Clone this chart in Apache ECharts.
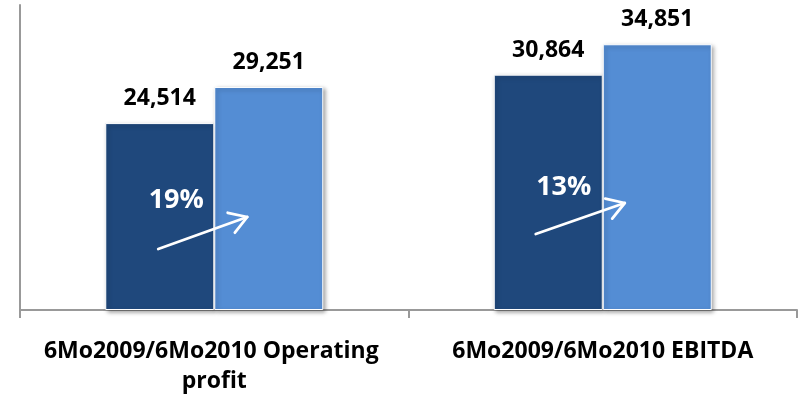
<!DOCTYPE html>
<html>
<head>
<meta charset="utf-8">
<script src="https://cdn.jsdelivr.net/npm/echarts@6/dist/echarts.min.js"></script>
<style>
  html, body { margin: 0; padding: 0; background: #ffffff; }
  #chart { width: 800px; height: 400px; }
</style>
</head>
<body>
<div id="chart"></div>
<script>
// Half-year comparison: operating profit and EBITDA
const categories = ['6Mo2009/6Mo2010 Operating profit', '6Mo2009/6Mo2010 EBITDA'];
const values2009 = [24514, 30864];
const values2010 = [29251, 34851];

const FONT = '"Open Sans", "Noto Sans", sans-serif';
const DARK = '#1F487C';
const LIGHT = '#548DD4';

const chart = echarts.init(document.getElementById('chart'), null, { renderer: 'canvas' });

const barStyle = (color) => ({
  color: color,
  borderColor: '#ffffff',
  borderWidth: 1,
  shadowColor: 'rgba(0,0,0,0.35)',
  shadowBlur: 4,
  shadowOffsetX: 2,
  shadowOffsetY: 2
});

const valueLabel = {
  show: true,
  position: 'top',
  distance: 13,
  color: '#000000',
  fontFamily: FONT,
  fontWeight: 'bold',
  fontSize: 23,
  formatter: (p) => p.value.toLocaleString('en-US')
};

chart.setOption({
  animation: false,
  backgroundColor: '#ffffff',
  grid: { left: 20, right: 3, top: 5, bottom: 90, containLabel: false },
  xAxis: {
    type: 'category',
    data: categories,
    axisLine: { show: true, lineStyle: { color: '#999999', width: 2 } },
    axisTick: { show: true, length: 8, lineStyle: { color: '#999999', width: 2 } },
    axisLabel: {
      color: '#000000',
      fontFamily: FONT,
      fontWeight: 'bold',
      fontSize: 23,
      lineHeight: 30,
      margin: 26,
      width: 360,
      overflow: 'break',
      interval: 0
    }
  },
  yAxis: {
    type: 'value',
    min: 0,
    max: 40000,
    axisLine: { show: true, lineStyle: { color: '#999999', width: 2 } },
    axisTick: { show: false },
    axisLabel: { show: false },
    splitLine: { show: false }
  },
  series: [
    {
      name: '6Mo2009',
      type: 'bar',
      data: values2009,
      barWidth: 109,
      barGap: '0%',
      itemStyle: barStyle(DARK),
      label: valueLabel
    },
    {
      name: '6Mo2010',
      type: 'bar',
      data: values2010,
      barWidth: 109,
      barGap: '0%',
      itemStyle: barStyle(LIGHT),
      label: valueLabel
    }
  ]
});

// Growth annotations: percentage text plus a rising arrow across each pair of bars.
// Offsets are in pixels relative to the boundary between the two bars of a category.
const annot = [
  { text: { dx: -38, y: 200 }, arrow: { x1: -56, y1: 249, x2: 33, y2: 217 } },
  { text: { dx: -39, y: 187 }, arrow: { x1: -67, y1: 234, x2: 22, y2: 203 } }
];

function arrowShapes(x1, y1, x2, y2) {
  const ang = Math.atan2(y2 - y1, x2 - x1);
  const len = 20, spread = Math.PI / 180 * 32;
  const a1 = ang + Math.PI - spread, a2 = ang + Math.PI + spread;
  const style = { stroke: '#ffffff', lineWidth: 2.8, fill: null, lineCap: 'round', lineJoin: 'round' };
  return [
    { type: 'line', z: 100, shape: { x1, y1, x2, y2 }, style, silent: true },
    {
      type: 'polyline', z: 100,
      shape: { points: [
        [x2 + len * Math.cos(a1), y2 + len * Math.sin(a1)],
        [x2, y2],
        [x2 + len * Math.cos(a2), y2 + len * Math.sin(a2)]
      ] },
      style, silent: true
    }
  ];
}

const graphics = [];
categories.forEach((c, i) => {
  const cx = chart.convertToPixel({ xAxisIndex: 0 }, i);
  const growth = Math.round((values2010[i] / values2009[i] - 1) * 100);
  const a = annot[i];
  graphics.push({
    type: 'text',
    z: 100,
    x: cx + a.text.dx,
    y: a.text.y,
    silent: true,
    style: {
      text: growth + '%',
      fill: '#ffffff',
      font: 'bold 27px ' + FONT,
      align: 'center',
      verticalAlign: 'middle'
    }
  });
  arrowShapes(cx + a.arrow.x1, a.arrow.y1, cx + a.arrow.x2, a.arrow.y2).forEach(s => graphics.push(s));
});

chart.setOption({ graphic: { elements: graphics } });
</script>
</body>
</html>
